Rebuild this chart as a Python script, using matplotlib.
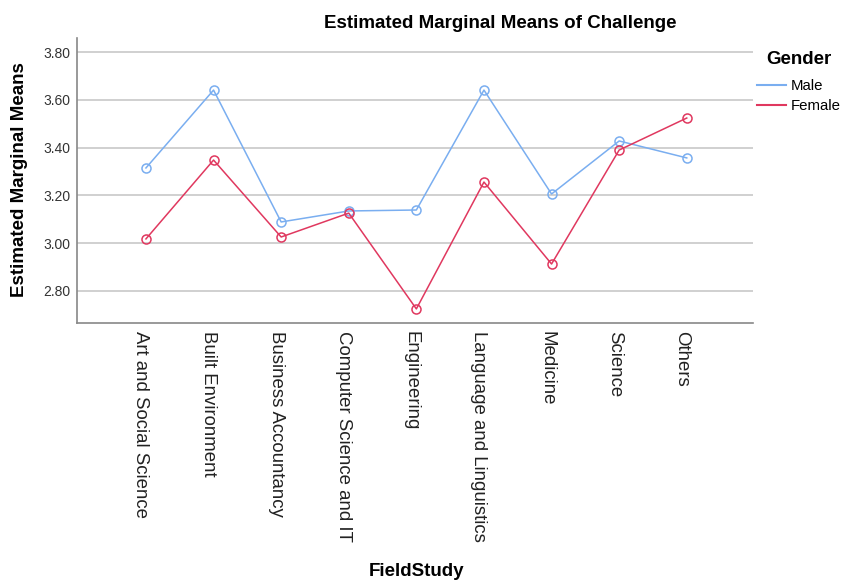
import matplotlib
matplotlib.use("Agg")
import matplotlib.pyplot as plt
import matplotlib.transforms as mtransforms

categories = ["Art and Social Science", "Built Environment", "Business Accountancy",
              "Computer Science and IT", "Engineering", "Language and Linguistics",
              "Medicine", "Science", "Others"]
male = [3.315, 3.641, 3.089, 3.135, 3.139, 3.641, 3.206, 3.428, 3.357]
female = [3.018, 3.348, 3.026, 3.126, 2.725, 3.256, 2.913, 3.390, 3.524]
yticks = [2.80, 3.00, 3.20, 3.40, 3.60, 3.80]

plt.rcParams['font.family'] = ['Liberation Sans', 'DejaVu Sans']

W, H = 842, 581
fig = plt.figure(figsize=(W/100, H/100), dpi=100)
ax = fig.add_axes([77/W, 1-323/H, (753-77)/W, (323-38)/H])

x = list(range(len(categories)))
blue = "#7aaef0"
red = "#e0385f"
ax.plot(x, male, color=blue, lw=1.1, marker='o', ms=6.5, mfc='none', mec=blue, mew=1.1, label="Male", zorder=3)
ax.plot(x, female, color=red, lw=1.1, marker='o', ms=6.5, mfc='none', mec=red, mew=1.1, label="Female", zorder=3)

ax.set_xlim(-1.02, 8.98)
ax.set_ylim(2.666, 3.859)
ax.set_yticks(yticks)
ax.set_yticklabels([f"{v:.2f}" for v in yticks], fontsize=10, color="#333333")
ax.set_xticks(x)
ax.set_xticklabels(categories, rotation=270, fontsize=13.4, color="#222222", va='top', ha='center')
ax.tick_params(length=0)
ax.tick_params(axis='y', pad=5)
ax.tick_params(axis='x', pad=6)
shift = mtransforms.ScaledTranslation(-5/100, 0, fig.dpi_scale_trans)
for lbl in ax.get_xticklabels():
    lbl.set_transform(lbl.get_transform() + shift)
ax.grid(axis='y', color='#c8c8c8', lw=1.2)
ax.set_axisbelow(True)
for s in ['top', 'right']:
    ax.spines[s].set_visible(False)
for s in ['left', 'bottom']:
    ax.spines[s].set_color('#888888')
    ax.spines[s].set_linewidth(1.2)

fig.text(500/W, 1-23/H, "Estimated Marginal Means of Challenge", fontsize=13.5,
         fontweight='bold', ha='center', va='center')
fig.text(20/W, 1-180/H, "Estimated Marginal Means", fontsize=13.5, fontweight='bold',
         rotation=90, ha='center', va='center')
fig.text(417/W, 1-572/H, "FieldStudy", fontsize=13.5, fontweight='bold',
         ha='center', va='center')

leg = fig.legend(loc='upper left', bbox_to_anchor=(757/W, 1-51/H), frameon=False,
                 title="Gender", fontsize=10.8, handlelength=1.95, handletextpad=0.33,
                 labelspacing=0.4, borderaxespad=0, borderpad=0)
leg.get_title().set_fontweight('bold')
leg.get_title().set_fontsize(13.5)
leg._legend_box.sep = 8
for line in leg.get_lines():
    line.set_marker('')
    line.set_linewidth(1.5)

fig.savefig("out.png", dpi=100)
